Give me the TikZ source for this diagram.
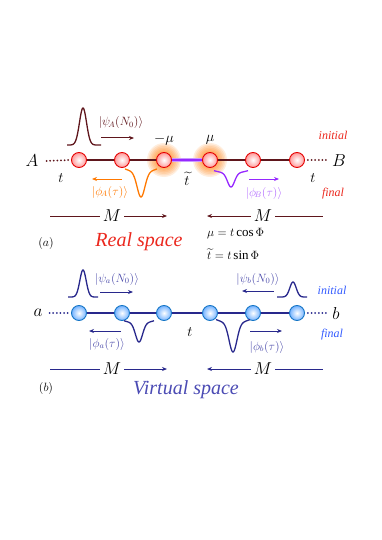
\documentclass[tikz,border=0pt]{standalone}
\usepackage{amsmath}
\usepackage{fontspec}
\setmainfont{Liberation Serif}
\usetikzlibrary{arrows.meta}
\definecolor{dbrown}{RGB}{95,22,28}
\definecolor{orgA}{RGB}{255,120,0}
\definecolor{purB}{RGB}{150,40,255}
\definecolor{purBl}{RGB}{180,110,255}
\definecolor{navy}{RGB}{40,40,140}
\definecolor{navyl}{RGB}{75,75,170}
\definecolor{initr}{RGB}{235,40,30}
\definecolor{initb}{RGB}{50,90,255}
\definecolor{vspace}{RGB}{75,75,180}
\begin{document}
\begin{tikzpicture}[x=1pt,y=-1pt,
  atomr/.style={circle,draw=red!90!black,line width=0.9pt,inner color=white,outer color=red!40,minimum size=15pt,inner sep=0pt},
  atomb/.style={circle,draw=cyan!55!blue,line width=0.9pt,inner color=white,outer color=cyan!45!blue!55,minimum size=15pt,inner sep=0pt},
  big/.style={font=\fontsize{17}{20}\selectfont,inner sep=0pt},
  ket/.style={font=\fontsize{12}{14}\selectfont,inner sep=0pt},
  tag/.style={font=\fontsize{12}{14}\selectfont\itshape,inner sep=0pt},
  arr/.style={line width=1pt,-{Stealth[length=5pt,width=4pt]}},
  mline/.style={line width=1pt},
  dots/.style={line width=2pt,line cap=round,dash pattern=on 0pt off 3.6pt},
  wave/.style={line width=1.3pt}]
\useasboundingbox (0,0) rectangle (382,540);

% ---------------- (a) real space ----------------
\coordinate (g3) at (164,160);
\coordinate (g4) at (210,160);
\foreach \r in {17,15.5,14,12.5,11,9.5}{
  \fill[orgA,opacity=0.13] (g3) circle (\r);
  \fill[orgA,opacity=0.13] (g4) circle (\r);}
\node[atomr] (a1) at (79,160) {};
\node[atomr] (a2) at (122,160) {};
\node[atomr] (a3) at (g3) {};
\node[atomr] (a4) at (g4) {};
\node[atomr] (a5) at (253,160) {};
\node[atomr] (a6) at (297,160) {};
\draw[dbrown,line width=1.1pt] (a1) -- (a2);
\draw[dbrown,line width=1.1pt] (a2) -- (a3);
\draw[purBl!70,line width=3.6pt] (a3) -- (a4);
\draw[purB,line width=1.4pt] (a3) -- (a4);
\draw[dbrown,line width=1.1pt] (a4) -- (a5);
\draw[dbrown,line width=1.1pt] (a5) -- (a6);
\node[big] (A) at (32,161) {$A$};
\node[big] (B) at (339,161) {$B$};
\draw[dots,dbrown] (A.east) ++(8,0) coordinate (Ad) -- (a1.west);
\draw[dots,dbrown] (a6.east) ++(3,0) coordinate (Bs) -- ++(19,0) coordinate (Bd);
\node[big,font=\fontsize{15}{18}\selectfont] (mmu) at (164,140) {$-\mu$};
\node[big,font=\fontsize{15}{18}\selectfont] (pmu) at (210,140) {$\mu$};
\node[big,font=\fontsize{15}{18}\selectfont] (tt) at (187,179) {$\widetilde{t}$};
\node[big,font=\fontsize{15}{18}\selectfont] (tA) at (61,178) {$t$};
\node[big,font=\fontsize{15}{18}\selectfont] (tB) at (313,178) {$t$};

% psi_A packet
\draw[wave,dbrown] plot[domain=-16:18,samples=80,smooth] ({83+\x},{145-37*exp(-(\x/5)^2)});
\node[ket,text=dbrown] (psiA) at (121,123) {$\lvert\psi_{\!A}(N_0)\rangle$};
\coordinate (psiAs) at (101,138); \coordinate (psiAe) at (134,138);
\draw[arr,dbrown] (psiAs) -- (psiAe);
% phi_A packet
\draw[wave,orgA] plot[domain=-16:16,samples=80,smooth] ({141+\x},{172+25*exp(-(\x/5.5)^2)-0.012*\x*\x});
\node[ket,text=orgA] (phiA) at (110,192) {$\lvert\phi_{\!A}(\tau)\rangle$};
\coordinate (phiAs) at (122,179); \coordinate (phiAe) at (92,179);
\draw[arr,orgA] (phiAs) -- (phiAe);
% phi_B packet
\draw[wave,purB] plot[domain=-17:17,samples=80,smooth] ({231+\x},{173+14*exp(-(\x/5)^2)-0.008*\x*\x});
\node[ket,text=purBl] (phiB) at (264,193) {$\lvert\phi_{\!B}(\tau)\rangle$};
\coordinate (phiBs) at (249,179); \coordinate (phiBe) at (279,179);
\draw[arr,purB] (phiBs) -- (phiBe);

\node[tag,text=initr] (iniA) at (333,135) {initial};
\node[tag,text=initr] (finA) at (333,194) {final};

% M arrows (a)
\node[big,font=\fontsize{16}{18}\selectfont] (M1) at (112,216) {$M$};
\coordinate (M1l) at (50,216); \coordinate (M1r) at (167,216);
\draw[mline,dbrown] (M1l) -- ([xshift=-3pt]M1.west);
\draw[arr,dbrown] ([xshift=3pt]M1.east) -- (M1r);
\node[big,font=\fontsize{16}{18}\selectfont] (M2) at (263,216) {$M$};
\coordinate (M2l) at (207,216); \coordinate (M2r) at (323,216);
\draw[arr,dbrown] ([xshift=-3pt]M2.west) -- (M2l);
\draw[mline,dbrown] ([xshift=3pt]M2.east) -- (M2r);

\node[big,font=\fontsize{13}{15}\selectfont] (labA) at (46,243) {$(a)$};
\node[inner sep=0pt,text=initr,font=\fontsize{20}{22}\selectfont\itshape] (rs) at (139,242) {Real space};
\node[inner sep=0pt,anchor=west,font=\fontsize{13}{15}\selectfont] (eq1) at (207,234) {$\mu = t\cos\Phi$};
\node[inner sep=0pt,anchor=west,font=\fontsize{13}{15}\selectfont] (eq2) at (207,254) {$\widetilde{t} = t\sin\Phi$};

% ---------------- (b) virtual space ----------------
\node[atomb] (b1) at (79,313) {};
\node[atomb] (b2) at (122,313) {};
\node[atomb] (b3) at (164,313) {};
\node[atomb] (b4) at (210,313) {};
\node[atomb] (b5) at (253,313) {};
\node[atomb] (b6) at (297,313) {};
\foreach \i/\j in {1/2,2/3,3/4,4/5,5/6}{\draw[navy,line width=1.3pt] (b\i) -- (b\j);}
\node[big] (aa) at (38,313) {$a$};
\node[big] (bb) at (336,313) {$b$};
\draw[dots,navy] (aa.east) ++(7,0) coordinate (ad) -- (b1.west);
\draw[dots,navy] (b6.east) ++(3,0) coordinate (bs) -- ++(19,0) coordinate (bd);
\node[big,font=\fontsize{15}{18}\selectfont] (tv) at (190,332) {$t$};

% psi_a
\draw[wave,navy] plot[domain=-15:15,samples=80,smooth] ({83+\x},{297-27*exp(-(\x/4.5)^2)});
\node[ket,text=navyl] (psia) at (117,279) {$\lvert\psi_{a}(N_0)\rangle$};
\coordinate (psias) at (100,292); \coordinate (psiae) at (133,292);
\draw[arr,navy] (psias) -- (psiae);
% phi_a
\draw[wave,navy] plot[domain=-15:15,samples=80,smooth] ({139+\x},{323+19*exp(-(\x/5)^2)-0.01*\x*\x});
\node[ket,text=navyl] (phia) at (107,344) {$\lvert\phi_{a}(\tau)\rangle$};
\coordinate (phias) at (121,331); \coordinate (phiae) at (89,331);
\draw[arr,navy] (phias) -- (phiae);
% psi_b
\draw[wave,navy] plot[domain=-16:14,samples=80,smooth] ({293+\x},{297-15*exp(-(\x/4.5)^2)});
\node[ket,text=navyl] (psib) at (258,279) {$\lvert\psi_{b}(N_0)\rangle$};
\coordinate (psibs) at (274,291); \coordinate (psibe) at (242,291);
\draw[arr,navy] (psibs) -- (psibe);
% phi_b
\draw[wave,navy] plot[domain=-17:17,samples=80,smooth] ({233+\x},{323+29*exp(-(\x/5.5)^2)-0.012*\x*\x});
\node[ket,text=navyl] (phib) at (267,347) {$\lvert\phi_{b}(\tau)\rangle$};
\coordinate (phibs) at (250,331); \coordinate (phibe) at (282,331);
\draw[arr,navy] (phibs) -- (phibe);

\node[tag,text=initb] (iniB) at (332,290) {initial};
\node[tag,text=initb] (finB) at (332,335) {final};

% M arrows (b)
\node[big,font=\fontsize{16}{18}\selectfont] (M3) at (112,369) {$M$};
\coordinate (M3l) at (50,369); \coordinate (M3r) at (167,369);
\draw[mline,navy] (M3l) -- ([xshift=-3pt]M3.west);
\draw[arr,navy] ([xshift=3pt]M3.east) -- (M3r);
\node[big,font=\fontsize{16}{18}\selectfont] (M4) at (263,369) {$M$};
\coordinate (M4l) at (207,369); \coordinate (M4r) at (323,369);
\draw[arr,navy] ([xshift=-3pt]M4.west) -- (M4l);
\draw[mline,navy] ([xshift=3pt]M4.east) -- (M4r);

\node[big,font=\fontsize{13}{15}\selectfont] (labB) at (46,388) {$(b)$};
\node[inner sep=0pt,text=vspace,font=\fontsize{20}{22}\selectfont\itshape] (vs) at (186,390) {Virtual space};
\end{tikzpicture}
\end{document}
